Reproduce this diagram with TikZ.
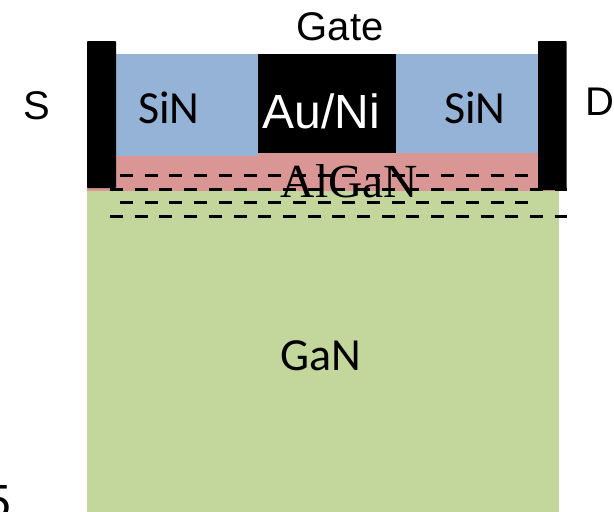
\documentclass[tikz,border=0pt]{standalone}
\usepackage{fontspec}
\setmainfont{Liberation Sans}
\newfontfamily\calfont{Carlito}
\newfontfamily\timesfont{Liberation Serif}
\definecolor{sinblue}{HTML}{95B3D7}
\definecolor{algared}{HTML}{D99694}
\definecolor{gangreen}{HTML}{C3D69B}
\tikzset{
  layer/.style={draw=none},
  lbl/.style={inner sep=0pt,anchor=base},
  arial/.style={lbl,font=\fontsize{40}{40}\selectfont},
  calibri/.style={lbl,font=\calfont\fontsize{46}{46}\selectfont},
  carrier/.style={line width=3pt,black,dash pattern=on 13pt off 11.7pt}
}
\begin{document}
\begin{tikzpicture}[x=1pt,y=-1pt]
\useasboundingbox (0,0) rectangle (614,512);
\begin{scope}
\clip (0,0) rectangle (614,512);
\fill[gangreen,layer] (87,191) rectangle (559,512);
\fill[algared,layer] (87,153) rectangle (559,191);
\fill[sinblue,layer] (116,54) rectangle (258,156);
\fill[sinblue,layer] (396,54) rectangle (538,153);
\fill[black,layer] (258,54) rectangle (396,153);
\fill[black,rounded corners=0.8pt] (87,41) rectangle (116,188);
\fill[black,rounded corners=0.8pt] (538,41) rectangle (566.5,190);
\draw[carrier] (120,175.5) -- (531,175.5);
\draw[carrier] (110,189.5) -- (567,189.5);
\draw[carrier] (120,202.5) -- (531,202.5);
\draw[carrier] (110,216.5) -- (567,216.5);
\node[arial] (gate) at (340,40) {Gate};
\node[arial] (source) at (37,119) {S};
\node[arial] (drain) at (600,115) {D};
\node[lbl,text=white,font=\fontsize{48}{48}\selectfont] (metal) at (321.5,128.5) {Au/Ni};
\node[calibri] (sinl) at (169,123) {SiN};
\node[calibri] (sinr) at (475,123) {SiN};
\node[lbl,font=\timesfont\fontsize{47.5}{47.5}\selectfont] (algan) at (349.5,197) {AlGaN};
\node[calibri] (gan) at (321,370) {GaN};
\node[lbl,anchor=base east,font=\fontsize{48}{48}\selectfont] (five) at (11,518) {5};
\end{scope}
\end{tikzpicture}
\end{document}
